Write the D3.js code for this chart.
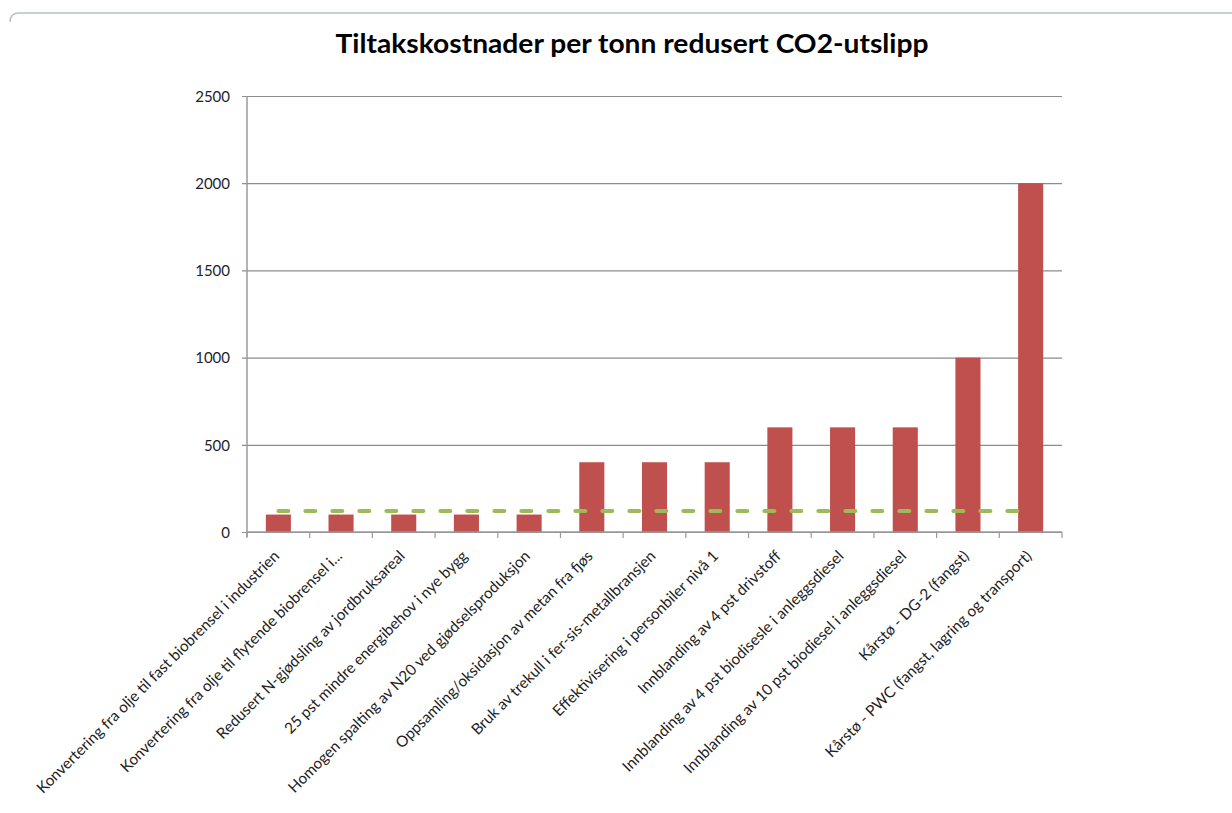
<!DOCTYPE html>
<html lang="no">
<head>
<meta charset="UTF-8">
<title>Tiltakskostnader</title>
<script src="https://d3js.org/d3.v7.min.js"></script>
<style>
  body { margin: 0; background: #fff; }
  svg text { font-family: Lato, "Open Sans", sans-serif; fill: #222; }
</style>
</head>
<body>
<svg id="chart" width="1232" height="813"></svg>
<script>
// categories (x axis)
var categories = [
  "Konvertering fra olje til fast biobrensel i industrien",
  "Konvertering fra olje til flytende biobrensel i...",
  "Redusert N-gjødsling av jordbruksareal",
  "25 pst mindre energibehov i nye bygg",
  "Homogen spalting av N20 ved gjødselsproduksjon",
  "Oppsamling/oksidasjon  av metan fra fjøs",
  "Bruk av trekull i fer-sis-metallbransjen",
  "Effektivisering i personbiler nivå 1",
  "Innblanding av 4 pst drivstoff",
  "Innblanding av 4 pst biodisesle i anleggsdiesel",
  "Innblanding av 10 pst biodiesel i anleggsdiesel",
  "Kårstø - DG-2 (fangst)",
  "Kårstø - PWC (fangst, lagring og transport)"
];

// bar values
var costs = [100, 100, 100, 100, 100, 400, 400, 400, 600, 600, 600, 1000, 2000];

// dashed reference line values
var refLine = [120, 120, 120, 120, 120, 120, 120, 120, 120, 120, 120, 120, 120];

var yTicks = [0, 500, 1000, 1500, 2000, 2500];

var title = "Tiltakskostnader per tonn redusert CO2-utslipp";

var svg = d3.select("#chart");
var plotLeft = 247, plotRight = 1062, plotTop = 96, plotBottom = 532;

var x = d3.scaleBand()
  .domain(categories)
  .range([plotLeft, plotRight])
  .paddingInner(0.6)
  .paddingOuter(0.3);

var y = d3.scaleLinear()
  .domain([0, 2500])
  .range([plotBottom, plotTop]);

// outer frame top edge
svg.append("path")
  .attr("d", "M10,22 Q10,13 19,13 L1232,13")
  .attr("fill", "none")
  .attr("stroke", "#b4c4c4")
  .attr("stroke-width", 1.5);

// title
svg.append("text")
  .attr("x", 632)
  .attr("y", 53)
  .attr("text-anchor", "middle")
  .attr("font-size", 26)
  .attr("font-weight", "bold")
  .attr("textLength", 593)
  .attr("lengthAdjust", "spacingAndGlyphs")
  .style("fill", "#000")
  .text(title);

// y axis with gridlines
var yAxis = svg.append("g")
  .attr("transform", "translate(" + plotLeft + ",0)")
  .call(d3.axisLeft(y).tickValues(yTicks).tickFormat(d3.format("d"))
    .tickSize(-(plotRight - plotLeft)).tickSizeOuter(0));
yAxis.select(".domain").remove();
yAxis.selectAll(".tick line")
  .attr("x1", -5)
  .attr("stroke", "#8c8c8c")
  .attr("stroke-width", 1.2);
yAxis.selectAll(".tick text")
  .attr("x", -17)
  .attr("dy", "0.35em")
  .attr("font-size", 15)
  .style("font-family", "Lato, sans-serif")
  .style("fill", "#1e1e2a");

// y axis line
svg.append("line")
  .attr("x1", plotLeft).attr("x2", plotLeft)
  .attr("y1", plotTop).attr("y2", plotBottom + 5)
  .attr("stroke", "#9a9a9a")
  .attr("stroke-width", 1.5);

// bars
svg.append("g")
  .selectAll("rect")
  .data(costs)
  .enter()
  .append("rect")
  .attr("x", function(d, i) { return x(categories[i]); })
  .attr("y", function(d) { return y(d); })
  .attr("width", x.bandwidth())
  .attr("height", function(d) { return y(0) - y(d); })
  .attr("fill", "#c0504d");

// x axis
var xAxis = svg.append("g")
  .attr("transform", "translate(0," + plotBottom + ")");
xAxis.append("line")
  .attr("x1", plotLeft).attr("x2", plotRight)
  .attr("stroke", "#9a9a9a")
  .attr("stroke-width", 1.5);
xAxis.selectAll(".xtick")
  .data(d3.range(categories.length + 1))
  .enter()
  .append("line")
  .attr("x1", function(i) { return plotLeft + i * x.step(); })
  .attr("x2", function(i) { return plotLeft + i * x.step(); })
  .attr("y1", 0).attr("y2", 6)
  .attr("stroke", "#9a9a9a")
  .attr("stroke-width", 1.2);

// category labels rotated
xAxis.selectAll(".xlabel")
  .data(categories)
  .enter()
  .append("text")
  .attr("text-anchor", "end")
  .attr("font-size", 15.3)
  .attr("transform", function(d) {
    var cx = x(d) + x.bandwidth() / 2 + 2;
    return "translate(" + cx + ",25) rotate(-45)";
  })
  .text(function(d) { return d; });

// dashed line
var line = d3.line()
  .x(function(d, i) { return x(categories[i]) + x.bandwidth() / 2; })
  .y(function(d) { return y(d); });

svg.append("path")
  .datum(refLine)
  .attr("d", line)
  .attr("fill", "none")
  .attr("stroke", "#9bbb59")
  .attr("stroke-width", 4)
  .attr("stroke-linecap", "round")
  .attr("stroke-dasharray", "10,17");
</script>
</body>
</html>
